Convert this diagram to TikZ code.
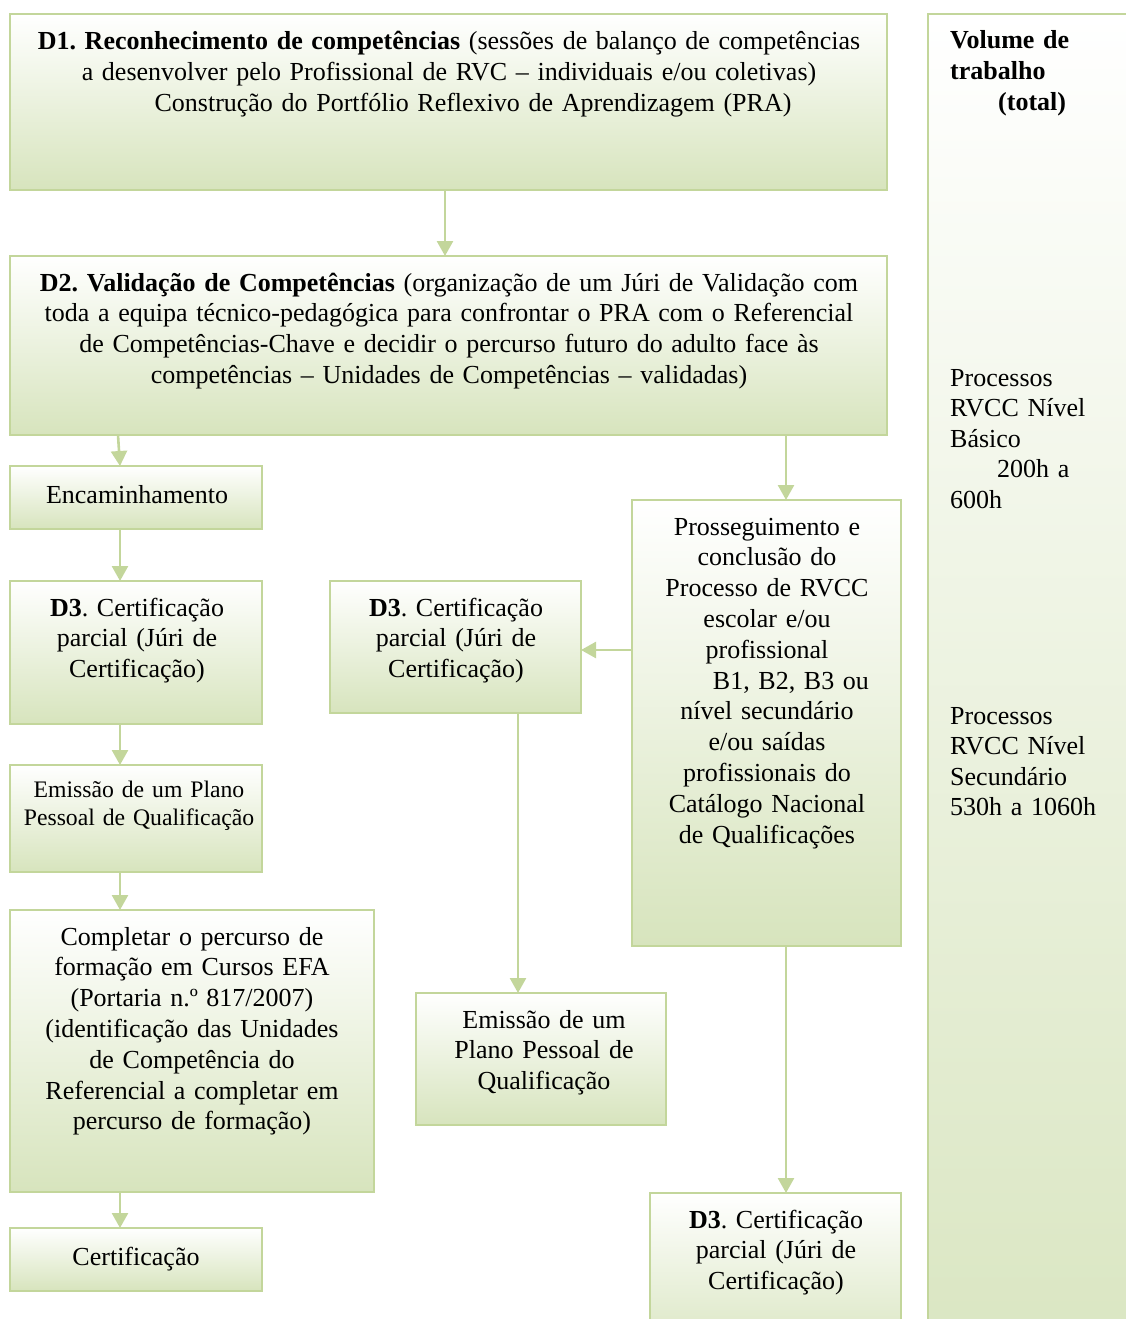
\documentclass[tikz,border=0pt]{standalone}
\usepackage{fontspec}
\setmainfont{Liberation Serif}
\usetikzlibrary{arrows.meta}
\definecolor{bordergreen}{HTML}{C3D69B}
\definecolor{fillgreen}{HTML}{D7E4BD}
\frenchspacing
\begin{document}
\begin{tikzpicture}[x=1pt,y=-1pt,
  box/.style={draw=bordergreen, line width=2.6pt, top color=white, bottom color=fillgreen, inner sep=0pt, outer sep=0pt, anchor=north west},
  txt/.style={font=\fontsize{26}{30.8}\selectfont\frenchspacing, inner sep=0pt, align=center, anchor=base},
  ltxt/.style={font=\fontsize{26}{30.6}\selectfont\frenchspacing, inner sep=0pt, align=left, anchor=base west, text width=172pt},
  arr/.style={draw=bordergreen, line width=2.6pt, -{Triangle[width=16pt,length=15pt]}}]
\useasboundingbox (0,0) rectangle (1126,1319);
\begin{scope}
\clip (0,0) rectangle (1126,1319);
% boxes
\node[box, minimum width=877pt, minimum height=176pt] (d1) at (10,14) {};
\node[box, minimum width=877pt, minimum height=179pt] (d2) at (10,256) {};
\node[box, minimum width=252pt, minimum height=63pt] (enc) at (10,466) {};
\node[box, minimum width=252pt, minimum height=143pt] (d3l) at (10,581) {};
\node[box, minimum width=252pt, minimum height=107pt] (eml) at (10,765) {};
\node[box, minimum width=364pt, minimum height=282pt] (comp) at (10,910) {};
\node[box, minimum width=252pt, minimum height=63pt] (cert) at (10,1228) {};
\node[box, minimum width=251pt, minimum height=132pt] (d3m) at (330,581) {};
\node[box, minimum width=269pt, minimum height=446pt] (pros) at (632,500) {};
\node[box, minimum width=250pt, minimum height=132pt] (emm) at (416,993) {};
\node[box, minimum width=251pt, minimum height=170pt] (d3b) at (650,1193) {};
\node[box, minimum width=240pt, minimum height=1450pt] (vol) at (928,14) {};
% connectors
\draw[arr] ([xshift=435pt]d1.south west) -- ([xshift=435pt]d2.north west);
\draw[arr] ([xshift=108pt]d2.south west) -- ([xshift=110pt]enc.north west);
\draw[arr] ([xshift=776pt]d2.south west) -- ([xshift=154pt]pros.north west);
\draw[arr] ([xshift=110pt]enc.south west) -- ([xshift=110pt]d3l.north west);
\draw[arr] ([xshift=110pt]d3l.south west) -- ([xshift=110pt]eml.north west);
\draw[arr] ([xshift=110pt]eml.south west) -- ([xshift=110pt]comp.north west);
\draw[arr] ([xshift=110pt]comp.south west) -- ([xshift=110pt]cert.north west);
\coordinate (pm) at ([yshift=-150pt]pros.north west);
\draw[arr] (pm) -- (pm -| d3m.east);
\draw[arr] ([xshift=188pt]d3m.south west) -- ([xshift=102pt]emm.north west);
\draw[arr] ([xshift=154pt]pros.south west) -- ([xshift=136pt]d3b.north west);
% texts
\node[txt, text width=875pt] (t1) at (449,50) {\textbf{D1. Reconhecimento de competências} (sessões de balanço de competências\\ a desenvolver pelo Profissional de RVC – individuais e/ou coletivas)\\ \hspace*{48pt}Construção do Portfólio Reflexivo de Aprendizagem (PRA)};
\node[txt, text width=875pt] (t2) at (449,291) {\textbf{D2. Validação de Competências} (organização de um Júri de Validação com\\ toda a equipa técnico-pedagógica para confrontar o PRA com o Referencial\\ de Competências-Chave e decidir o percurso futuro do adulto face às\\ competências – Unidades de Competências – validadas)};
\node[txt, text width=250pt] (tenc) at (137,503) {Encaminhamento};
\node[txt, text width=250pt] (td3l) at (137,616) {\textbf{D3}. Certificação\\ parcial (Júri de\\ Certificação)};
\node[txt, text width=260pt, font=\fontsize{23.7}{28}\selectfont\frenchspacing] (teml) at (139,797) {Emissão de um Plano\\ Pessoal de Qualificação};
\node[txt, text width=362pt] (tcomp) at (192,945) {Completar o percurso de\\ formação em Cursos EFA\\ (Portaria n.º 817/2007)\\ (identificação das Unidades\\ de Competência do\\ Referencial a completar em\\ percurso de formação)};
\node[txt, text width=250pt] (tcert) at (136,1265) {Certificação};
\node[txt, text width=250pt] (td3m) at (456,616) {\textbf{D3}. Certificação\\ parcial (Júri de\\ Certificação)};
\node[txt, text width=268pt] (tpros) at (767,535) {Prosseguimento e\\ conclusão do\\ Processo de RVCC\\ escolar e/ou\\ profissional\\ \hspace*{48pt}B1, B2, B3 ou\\ nível secundário\\ e/ou saídas\\ profissionais do\\ Catálogo Nacional\\ de Qualificações};
\node[txt, text width=250pt] (temm) at (544,1028) {Emissão de um\\ Plano Pessoal de\\ Qualificação};
\node[txt, text width=250pt] (td3b) at (776,1228) {\textbf{D3}. Certificação\\ parcial (Júri de\\ Certificação)};
\node[ltxt] (tvol) at (950,49) {\textbf{Volume de}\\ \textbf{trabalho}\\ \hspace*{48pt}\textbf{(total)}};
\node[ltxt] (tbas) at (950,386) {Processos\\ RVCC Nível\\ Básico\\ \hspace*{47pt}200h a\\ 600h};
\node[ltxt] (tsec) at (950,724) {Processos\\ RVCC Nível\\ Secundário\\ 530h a 1060h};
\end{scope}
\end{tikzpicture}
\end{document}
